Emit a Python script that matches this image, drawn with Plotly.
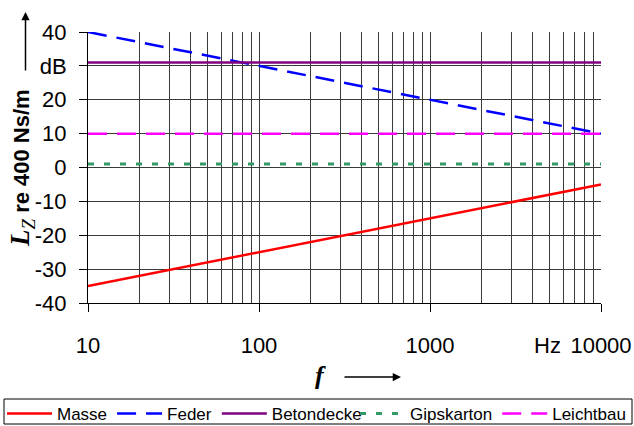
import plotly.graph_objects as go

# ---- data ----
freq = [10, 100, 1000, 10000]
masse = [-35, -25, -15, -5]
feder = [40, 30, 20, 10]
betondecke = [31, 31, 31, 31]
gipskarton = [1, 1, 1, 1]
leichtbau = [10, 10, 10, 10]

x_major = [10, 100, 1000, 10000]
x_major_text = ["10", "100", "1000", "10000"]
y_ticks = [-40, -30, -20, -10, 0, 10, 20, 30, 40]
y_text = ["-40", "-30", "-20", "-10", "0", "10", "20", "dB", "40"]

W, H = 634, 426
ML, MR, MT, MB = 88, 33, 32, 123
PW, PH = W - ML - MR, H - MT - MB


def px(xp):
    return (xp - ML) / PW


def py(yp):
    return (H - MB - yp) / PH


FONT = "Arial, Liberation Sans, sans-serif"
SERIF = "Liberation Serif, Times New Roman, serif"

fig = go.Figure()
fig.add_trace(go.Scatter(x=freq, y=masse, name="Masse", mode="lines",
                         line=dict(color="#ff0000", width=2.5), legend="legend"))
fig.add_trace(go.Scatter(x=freq, y=feder, name="Feder", mode="lines",
                         line=dict(color="#0000ff", width=2.5, dash="19px,10px"), legend="legend"))
fig.add_trace(go.Scatter(x=freq, y=betondecke, name="Betondecke", mode="lines",
                         line=dict(color="#800080", width=2.5), legend="legend"))
fig.add_trace(go.Scatter(x=freq, y=gipskarton, name="Gipskarton", mode="lines",
                         line=dict(color="#339966", width=3, dash="6px,10px"), legend="legend2"))
fig.add_trace(go.Scatter(x=freq, y=leichtbau, name="Leichtbau", mode="lines",
                         line=dict(color="#ff00ff", width=2.5, dash="19px,10px"), legend="legend2"))

minor_vals = [k * 10 ** d for d in range(1, 4) for k in range(2, 10)]
GRID = "#3a3a3a"

fig.update_xaxes(type="log", range=[1, 4], tickvals=x_major, ticktext=x_major_text,
                 showgrid=True, gridcolor=GRID, gridwidth=1,
                 ticks="outside", ticklen=8, tickcolor="black",
                 showline=True, linecolor="black", linewidth=1,
                 tickfont=dict(family=FONT, size=22, color="black"),
                 ticklabelstandoff=15,
                 minor=dict(tickvals=minor_vals, showgrid=True, gridcolor=GRID, gridwidth=1, ticks=""),
                 zeroline=False, fixedrange=True, automargin=False)
fig.update_yaxes(range=[-40, 40], tickvals=y_ticks, ticktext=y_text,
                 showgrid=True, gridcolor=GRID, gridwidth=1,
                 ticks="outside", ticklen=8, tickcolor="black",
                 showline=True, linecolor="black", linewidth=1,
                 tickfont=dict(family=FONT, size=22, color="black"),
                 ticklabelstandoff=8,
                 zeroline=False, fixedrange=True, automargin=False)

legend_common = dict(orientation="h", font=dict(family=FONT, size=17, color="black"),
                     bgcolor="rgba(0,0,0,0)", borderwidth=0, yanchor="top",
                     itemwidth=45, tracegroupgap=0)
fig.update_layout(
    width=W, height=H,
    margin=dict(l=ML, r=MR, t=MT, b=MB, autoexpand=False),
    paper_bgcolor="white", plot_bgcolor="white",
    showlegend=True,
    legend=dict(x=px(2), xanchor="left", y=py(396), **legend_common),
    legend2=dict(x=px(355), xanchor="left", y=py(396), **legend_common),
    shapes=[dict(type="rect", xref="paper", yref="paper",
                 x0=px(4), x1=px(632), y0=py(424), y1=py(399),
                 line=dict(color="black", width=1))],
    annotations=[
        # y axis title
        dict(xref="paper", yref="paper", x=px(22), y=py(168), xanchor="center", yanchor="middle",
             textangle=-90, showarrow=False,
             text=("<span style='font-family:Liberation Serif;font-size:27px'><b><i>L</i></b>"
                   "<sub><i>Z</i></sub></span><b> re 400 Ns/m</b>"),
             font=dict(family=FONT, size=22, color="black")),
        # y arrow
        dict(xref="paper", yref="paper", x=px(25.5), y=py(12), ax=0, ay=60, text="",
             showarrow=True, arrowhead=2, arrowsize=1.1, arrowwidth=1.5, arrowcolor="black"),
        # x axis title
        dict(xref="paper", yref="paper", x=px(320), y=py(375), xanchor="center", yanchor="middle",
             showarrow=False, text="<b><i>f</i></b>",
             font=dict(family=SERIF, size=26, color="black")),
        # x arrow
        dict(xref="paper", yref="paper", x=px(401), y=py(377), ax=-58, ay=0, text="",
             showarrow=True, arrowhead=2, arrowsize=1.1, arrowwidth=1.5, arrowcolor="black"),
        # Hz unit before last tick label
        dict(xref="x", yref="paper", x=4, y=py(345), xanchor="right", yanchor="middle",
             xshift=-38, showarrow=False, text="Hz",
             font=dict(family=FONT, size=22, color="black")),
    ],
)

fig.write_html("out.html")
